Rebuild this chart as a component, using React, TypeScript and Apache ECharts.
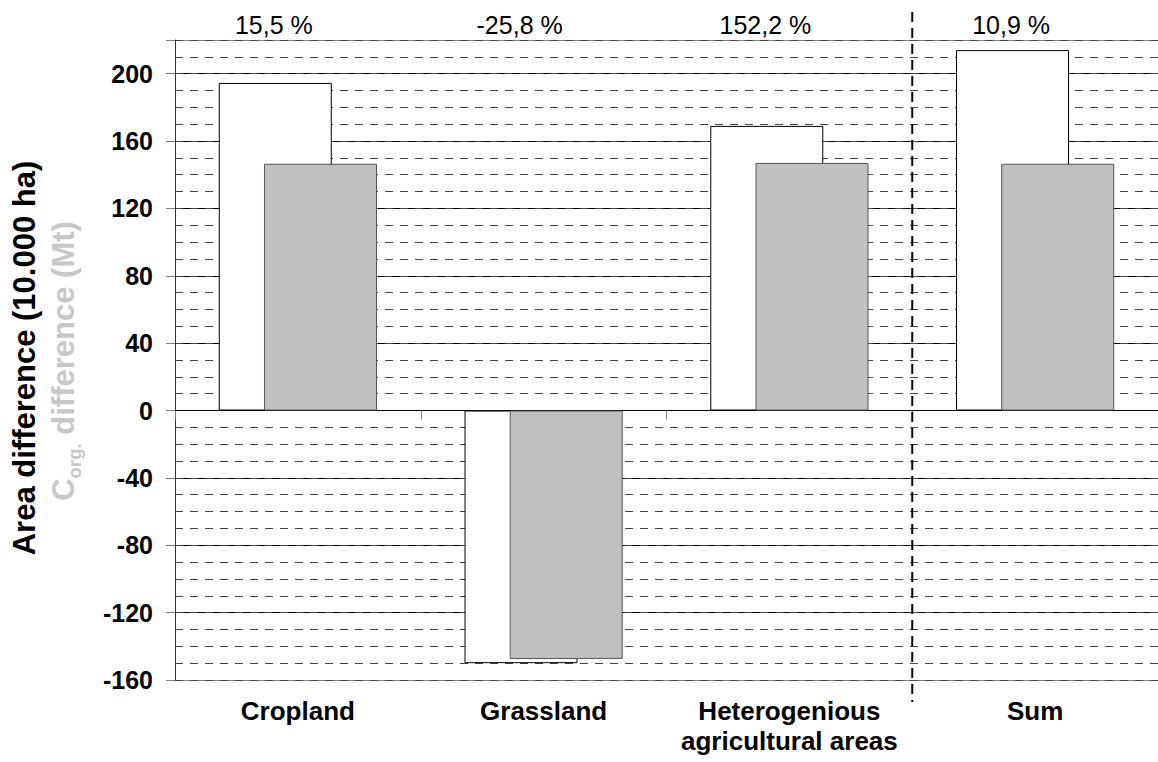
import React, { useEffect, useRef } from "react";
import * as echarts from "echarts";

const categories = ["Cropland", "Grassland", "Heterogenious\nagricultural areas", "Sum"];
const percentLabels = ["15,5 %", "-25,8 %", "152,2 %", "10,9 %"];
const areaDiff = [194.5, -150, 169, 214];
const corgDiff = [146.5, -147.5, 147, 146.5];
const yTicks = [-160, -120, -80, -40, 0, 40, 80, 120, 160, 200];

const FONT = '"Liberation Sans", Arial, sans-serif';

export default function App() {
  const ref = useRef<HTMLDivElement>(null);
  useEffect(() => {
    if (!ref.current) return;
    const chart = echarts.init(ref.current, null, { renderer: "svg" });
    const splitColors = yTicks.map((v, i) => (i === 0 ? "#808080" : "#000"));
    splitColors.push("#808080");
    chart.setOption({
      animation: false,
      backgroundColor: "#fff",
      textStyle: { fontFamily: FONT },
      grid: { left: 175, top: 40, width: 988, height: 640, containLabel: false },
      xAxis: [
        {
          type: "category",
          data: categories,
          position: "bottom",
          axisLine: { show: false, onZero: false },
          axisTick: { show: false },
          axisLabel: {
            fontFamily: FONT,
            fontSize: 26,
            fontWeight: "bold",
            color: "#000",
            margin: 16,
            lineHeight: 30,
            interval: 0,
          },
        },
        {
          type: "category",
          data: percentLabels,
          position: "top",
          axisLine: { show: false, onZero: false },
          axisTick: { show: false },
          axisLabel: {
            fontFamily: FONT,
            fontSize: 25,
            color: "#000",
            margin: 3,
            interval: 0,
            padding: [0, 48, 0, 0],
          },
        },
        {
          type: "category",
          data: categories,
          position: "bottom",
          axisLine: { show: true, onZero: true, onZeroAxisIndex: 0, lineStyle: { color: "#000", width: 1 } },
          axisTick: { show: true, length: 9, lineStyle: { color: "#808080" } },
          axisLabel: { show: false },
        },
      ],
      yAxis: [
        {
          type: "value",
          min: -160,
          max: 220,
          interval: 40,
          axisLine: { show: true, onZero: false, lineStyle: { color: "#333", width: 1 } },
          axisTick: { show: true, length: 9, lineStyle: { color: "#808080" } },
          axisLabel: {
            fontFamily: FONT,
            fontSize: 25,
            fontWeight: "bold",
            color: "#000",
            margin: 22,
            formatter: (v: number) => (yTicks.indexOf(v) >= 0 ? String(v) : ""),
          },
          splitLine: { show: true, lineStyle: { color: splitColors, width: 1 } },
        },
        {
          type: "value",
          min: -160,
          max: 220,
          interval: 10,
          position: "left",
          axisLine: { show: false },
          axisTick: { show: false },
          axisLabel: { show: false },
          splitLine: { show: true, lineStyle: { color: "#444", width: 1, type: [8, 7] } },
        },
      ],
      series: [
        {
          type: "bar",
          data: areaDiff,
          xAxisIndex: 0,
          yAxisIndex: 0,
          barWidth: 113,
          barGap: "-60%",
          itemStyle: { color: "#fff", borderColor: "#000", borderWidth: 1 },
          z: 3,
        },
        {
          type: "bar",
          data: corgDiff,
          xAxisIndex: 0,
          yAxisIndex: 0,
          barWidth: 113,
          barGap: "-60%",
          itemStyle: { color: "#c0c0c0", borderColor: "#555", borderWidth: 1 },
          z: 4,
        },
      ],
    });

    const x2 = chart.convertToPixel({ xAxisIndex: 0 }, categories[2]) as number;
    const x3 = chart.convertToPixel({ xAxisIndex: 0 }, categories[3]) as number;
    const divX = (x2 + x3) / 2;

    const subFont = 18.6;
    const mainFont = 31;
    const wC = 0.722 * mainFont;
    const wSub = 1.889 * subFont;
    const wRest = 7.167 * mainFont;
    const total = wC + wSub + wRest;
    const start = -total / 2;

    chart.setOption({
      graphic: [
        {
          type: "line",
          shape: { x1: divX, y1: 12, x2: divX, y2: 702 },
          style: { stroke: "#000", lineWidth: 2, lineDash: [10, 6] },
          z: 10,
        },
        {
          type: "text",
          x: 24,
          y: 358,
          rotation: Math.PI / 2,
          style: {
            text: "Area difference (10.000 ha)",
            font: `bold ${mainFont}px ${FONT}`,
            fill: "#000",
            align: "center",
            verticalAlign: "middle",
          },
        },
        {
          type: "group",
          x: 63,
          y: 361,
          rotation: Math.PI / 2,
          children: [
            {
              type: "text",
              x: start,
              y: 0,
              style: { text: "C", font: `bold ${mainFont}px ${FONT}`, fill: "#c8c8c8", align: "left", verticalAlign: "middle" },
            },
            {
              type: "text",
              x: start + wC,
              y: 11,
              style: { text: "org.", font: `bold ${subFont}px ${FONT}`, fill: "#c8c8c8", align: "left", verticalAlign: "middle" },
            },
            {
              type: "text",
              x: start + wC + wSub,
              y: 0,
              style: {
                text: " difference (Mt)",
                font: `bold ${mainFont}px ${FONT}`,
                fill: "#c8c8c8",
                align: "left",
                verticalAlign: "middle",
              },
            },
          ],
        },
      ],
    });

    return () => chart.dispose();
  }, []);
  return <div ref={ref} style={{ position: "absolute", left: 0, top: 0, width: 1158, height: 762 }} />;
}
